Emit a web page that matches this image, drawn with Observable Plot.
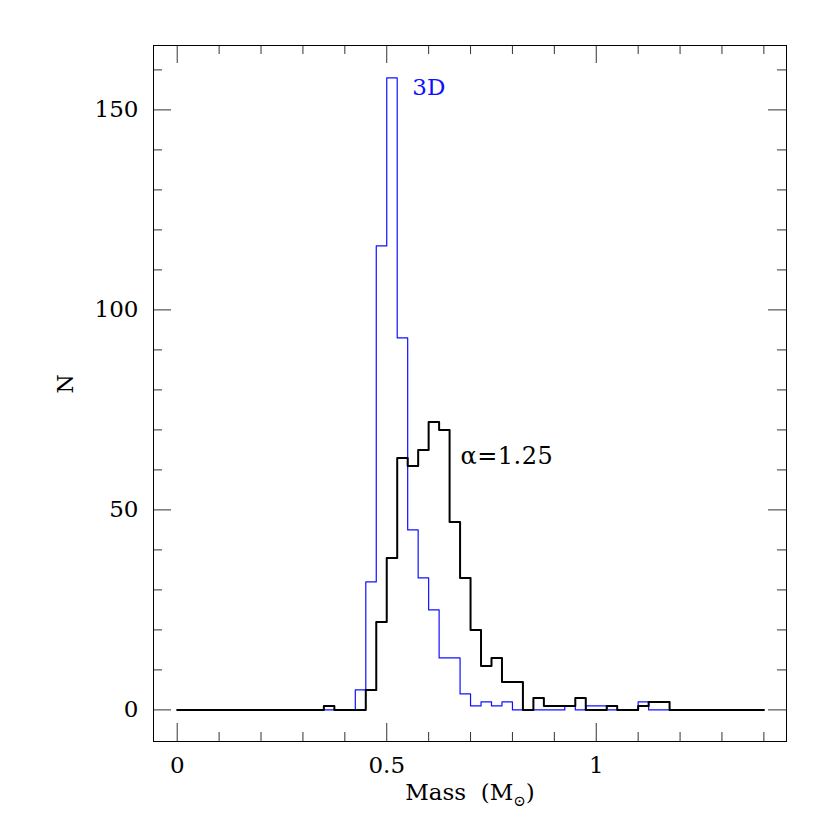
<!DOCTYPE html>
<html><head><meta charset="utf-8">
<script src="https://cdn.jsdelivr.net/npm/d3@7"></script>
<script src="https://cdn.jsdelivr.net/npm/@observablehq/plot@0.6"></script>
<style>body{margin:0;background:#fff}</style>
</head><body><div id="chart"></div>
<script>
// Histogram bins: width 0.025 Msun, from 0 to 1.4
const binWidth = 0.025;
const binCount = 56;
const binEdges = d3.range(binCount + 1).map(i => +(i * binWidth).toFixed(3));

// alpha = 1.25 model (black)
const alphaCounts = [
  0,0,0,0,0,0,0,0,0,0,0,0,0,0,
  1,
  0,0,0,
  5,22,38,63,61,65,72,70,47,33,20,11,13,7,7,
  0,
  3,1,1,1,3,0,0,1,0,0,1,2,2,
  0,0,0,0,0,0,0,0,0
];
// 3D model (blue)
const threeDCounts = [
  0,0,0,0,0,0,0,0,0,0,0,0,0,0,0,0,0,
  5,32,116,158,93,45,33,25,13,13,4,1,2,1,2,
  0,0,0,0,0,
  1,0,1,1,0,0,0,2,
  0,0,0,0,0,0,0,0,0,0,0
];

const xMajor = [0, 0.5, 1];
const xMinor = [0.1,0.2,0.3,0.4,0.6,0.7,0.8,0.9,1.1,1.2,1.3,1.4];
const yMajor = [0, 50, 100, 150];
const yMinor = [10,20,30,40,60,70,80,90,110,120,130,140,160];

const labels3D = [{x: 0.561, y: 155.6, text: "3D"}];
const labelsAlpha = [{x: 0.676, y: 63.5, text: "α=1.25"}];

function steps(counts) {
  const pts = counts.map((v, i) => ({x: binEdges[i], y: v}));
  pts.push({x: binEdges[binCount], y: counts[binCount - 1]});
  return pts;
}

const W = 830, H = 830, mL = 153, mR = 44, mT = 45, mB = 89;
const fw = W - mL - mR, fh = H - mT - mB;
const tickColor = "#333";

const chart = Plot.plot({
  width: W, height: H,
  marginLeft: mL, marginRight: mR, marginTop: mT, marginBottom: mB,
  style: {fontFamily: "DejaVu Serif", fontSize: "23px", background: "white", color: "black"},
  x: {domain: [-0.0566, 1.454]},
  y: {domain: [-7.9, 166.1]},
  marks: [
    // minor & major ticks on four sides
    Plot.tickX(xMinor, {x: d => d, insetTop: fh - 9, stroke: tickColor}),
    Plot.tickX(xMinor, {x: d => d, insetBottom: fh - 9, stroke: tickColor}),
    Plot.tickX(xMajor, {x: d => d, insetTop: fh - 18, stroke: tickColor}),
    Plot.tickX(xMajor, {x: d => d, insetBottom: fh - 18, stroke: tickColor}),
    Plot.tickY(yMinor, {y: d => d, insetRight: fw - 9, stroke: tickColor}),
    Plot.tickY(yMinor, {y: d => d, insetLeft: fw - 9, stroke: tickColor}),
    Plot.tickY(yMajor, {y: d => d, insetRight: fw - 18, stroke: tickColor}),
    Plot.tickY(yMajor, {y: d => d, insetLeft: fw - 18, stroke: tickColor}),
    Plot.axisX({ticks: xMajor, tickSize: 0, tickPadding: 15, tickFormat: d => String(d), label: null, fontSize: 23}),
    Plot.axisY({ticks: yMajor, tickSize: 0, tickPadding: 15, tickFormat: d => String(d), label: null, fontSize: 23}),
    Plot.line(steps(threeDCounts), {x: "x", y: "y", curve: "step-after", stroke: "#1010ff", strokeWidth: 1.2}),
    Plot.line(steps(alphaCounts), {x: "x", y: "y", curve: "step-after", stroke: "black", strokeWidth: 2}),
    Plot.text(labels3D, {x: "x", y: "y", text: "text", fill: "#1010ff", textAnchor: "start", fontSize: 23}),
    Plot.text(labelsAlpha, {x: "x", y: "y", text: "text", fill: "black", textAnchor: "start", fontSize: 24, className: "alpha"}),
    Plot.text(["Mass (M⊙)"], {frameAnchor: "bottom", dy: 58, text: d => d, fontSize: 23, fill: "black", className: "xlabel"}),
    Plot.text(["N"], {frameAnchor: "left", dx: -88, rotate: -90, text: d => d, fontSize: 22, fill: "black"}),
    Plot.frame({stroke: "black", strokeWidth: 1})
  ]
});

// Render the solar symbol as a subscript
d3.select(chart).selectAll("g.xlabel text").each(function() {
  const t = d3.select(this);
  t.text(null);
  t.append("tspan").text("Mass  (M");
  t.append("tspan").attr("font-size", 15).attr("dy", 6).text("⊙");
  t.append("tspan").attr("dy", -6).text(")");
});
d3.select(chart).selectAll("g.alpha text").style("letter-spacing", "0.5px");

document.getElementById("chart").appendChild(chart);
</script>
</body></html>
